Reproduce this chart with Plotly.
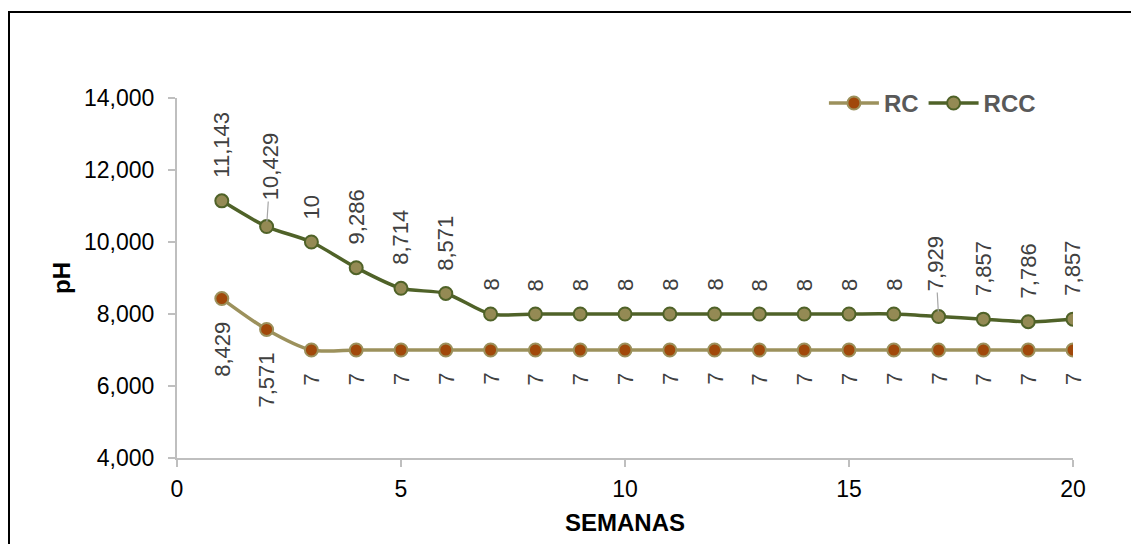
import plotly.graph_objects as go

# Weekly pH readings for the two treatments
semanas = list(range(1, 21))
rc = [8.429, 7.571, 7, 7, 7, 7, 7, 7, 7, 7, 7, 7, 7, 7, 7, 7, 7, 7, 7, 7]
rcc = [11.143, 10.429, 10, 9.286, 8.714, 8.571, 8, 8, 8, 8, 8, 8, 8, 8, 8, 8,
       7.929, 7.857, 7.786, 7.857]

y_ticks = [4, 6, 8, 10, 12, 14]
x_ticks = [0, 5, 10, 15, 20]

RC_LINE = "#9C915C"
RC_FILL = "#A1480A"
RCC_LINE = "#4F6228"
RCC_FILL = "#948A54"
LABEL_GREY = "#404040"
AXIS_GREY = "#BFBFBF"


def fmt(v):
    s = f"{v:.3f}".rstrip("0").rstrip(".")
    return s.replace(".", ",")


fig = go.Figure()
fig.add_trace(go.Scatter(
    x=semanas, y=rc, name="RC", mode="lines+markers",
    line=dict(color=RC_LINE, width=3.5, shape="spline", smoothing=0.8),
    marker=dict(size=13, color=RC_FILL, line=dict(color=RC_LINE, width=2)),
))
fig.add_trace(go.Scatter(
    x=semanas, y=rcc, name="RCC", mode="lines+markers",
    line=dict(color=RCC_LINE, width=3.5, shape="spline", smoothing=0.8),
    marker=dict(size=13, color=RCC_FILL, line=dict(color=RCC_LINE, width=2)),
))

label_font = dict(family="Liberation Sans, Arial", size=22, color=LABEL_GREY)
annotations = []
# RC values sit below their markers
for x, v in zip(semanas, rc):
    annotations.append(dict(
        x=x, y=v, xref="x", yref="y", text=fmt(v), textangle=-90,
        showarrow=False, xanchor="center", yanchor="top", yshift=-21,
        font=label_font,
    ))
# RCC values sit above their markers; two of them use a leader line
leader = {2: (4, -60), 17: (-3, -53)}
for x, v in zip(semanas, rcc):
    if x in leader:
        ax, ay = leader[x]
        annotations.append(dict(
            x=x, y=v, xref="x", yref="y", text=fmt(v), textangle=-90,
            showarrow=True, arrowhead=0, arrowwidth=1.2, arrowcolor="#A6A6A6",
            ax=ax, ay=ay, standoff=5, font=label_font,
        ))
    else:
        annotations.append(dict(
            x=x, y=v, xref="x", yref="y", text=fmt(v), textangle=-90,
            showarrow=False, xanchor="center", yanchor="bottom", yshift=21,
            font=label_font,
        ))

fig.update_layout(
    width=1131, height=544,
    margin=dict(l=177, r=58, t=98, b=82),
    paper_bgcolor="white", plot_bgcolor="white",
    separators=",.",
    font=dict(family="Liberation Sans, Arial", size=23, color="black"),
    showlegend=True,
    legend=dict(
        orientation="h", x=0.722, y=0.985, xanchor="left", yanchor="middle",
        font=dict(family="Liberation Sans, Arial", size=24, color="#595959",
                  weight="bold"),
        itemwidth=50, tracegroupgap=0, bgcolor="rgba(0,0,0,0)",
    ),
    annotations=annotations,
    shapes=[dict(
        type="rect", xref="paper", yref="paper",
        x0=-0.1875, x1=1.3, y0=-0.6, y1=1.239,
        line=dict(color="black", width=2), fillcolor="rgba(0,0,0,0)",
        layer="below",
    )],
)

fig.update_xaxes(
    range=[0, 20], tickvals=x_ticks, ticktext=[str(t) for t in x_ticks],
    showgrid=False, zeroline=False, showline=True, linecolor=AXIS_GREY,
    linewidth=2, ticks="outside", ticklen=7, tickwidth=2, tickcolor=AXIS_GREY,
    ticklabelstandoff=2,
    title=dict(text="<b>SEMANAS</b>", standoff=14,
               font=dict(family="Liberation Sans, Arial", size=24, color="black")),
)
fig.update_yaxes(
    range=[4, 14], tickvals=y_ticks, tickformat=".3f",
    showgrid=False, zeroline=False, showline=True, linecolor=AXIS_GREY,
    linewidth=2, ticks="outside", ticklen=7, tickwidth=2, tickcolor=AXIS_GREY,
    ticklabelstandoff=9,
    title=dict(text="<b>pH</b>", standoff=7,
               font=dict(family="Liberation Sans, Arial", size=24, color="black")),
)

fig.write_html("out.html")
